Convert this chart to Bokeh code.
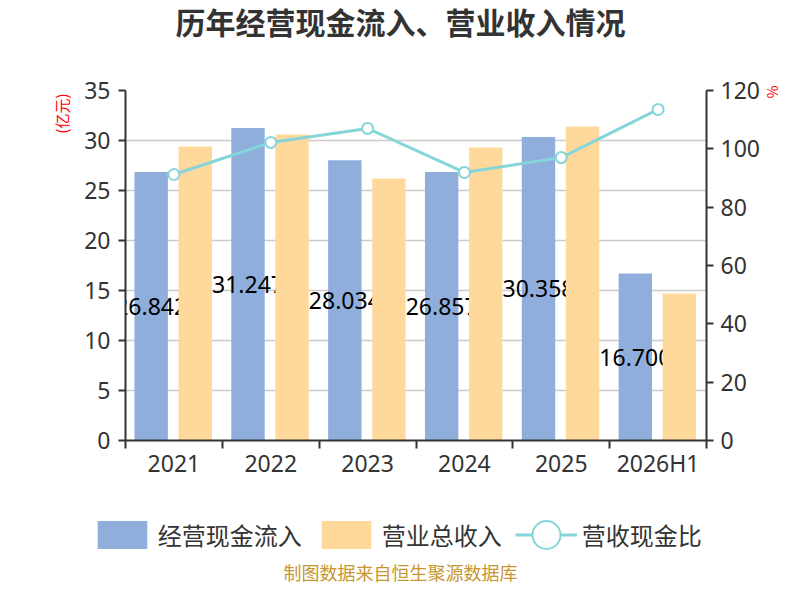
import numpy as np
from bokeh.plotting import figure
from bokeh.models import (Range1d, LinearAxis, FixedTicker, ColumnDataSource,
                          Legend, LegendItem, Title, Label)
from bokeh.core.properties import value
from bokeh.embed import file_html
from bokeh.resources import INLINE

# ---- data ----
categories = ["2021", "2022", "2023", "2024", "2025", "2026H1"]
cash_inflow = [26.842, 31.247, 28.034, 26.857, 30.358, 16.700]   # 经营现金流入 (亿元)
revenue = [29.4, 30.6, 26.2, 29.3, 31.4, 14.7]                   # 营业总收入 (亿元)
cash_ratio = [91.2, 102.2, 107.0, 91.9, 97.0, 113.5]             # 营收现金比 (%)
left_ticks = [0, 5, 10, 15, 20, 25, 30, 35]
right_ticks = [0, 20, 40, 60, 80, 100, 120]
series_names = ["经营现金流入", "营业总收入", "营收现金比"]

CJK = "Noto Sans CJK SC"
NUM = "Noto Sans"
BLUE = "#8FAEDB"
ORANGE = "#FFD99C"
TEAL = "#86D5D9"
AXIS = "#333333"
W = 784

n = len(categories)
centers = np.arange(n) + 0.5
src = ColumnDataSource(dict(
    xc=centers, xb=centers - 0.235, xo=centers + 0.22,
    cash=cash_inflow, rev=revenue, ratio=cash_ratio,
    label_y=np.array(cash_inflow) / 2.0,
    label=[f"{v:.3f}" for v in cash_inflow],
))

# ---------------- main chart ----------------
p = figure(width=W, height=500, x_range=Range1d(0, n), y_range=Range1d(0, left_ticks[-1]),
           output_backend="svg", toolbar_location=None, title=None,
           min_border_left=125, min_border_right=73, min_border_top=90, min_border_bottom=60)
p.outline_line_color = None
p.background_fill_color = "white"
p.extra_y_ranges = {"pct": Range1d(0, right_ticks[-1])}

p.xgrid.visible = False
p.ygrid.ticker = FixedTicker(ticks=left_ticks)
p.ygrid.grid_line_color = "#CCCCCC"
p.ygrid.grid_line_width = 1.5

xa = p.xaxis[0]
xa.ticker = FixedTicker(ticks=list(centers), minor_ticks=list(range(n + 1)))
xa.major_label_overrides = {float(c): cat for c, cat in zip(centers, categories)}
xa.major_tick_in = 0
xa.major_tick_out = 0
xa.minor_tick_in = 0
xa.minor_tick_out = 8
xa.minor_tick_line_color = AXIS
xa.minor_tick_line_width = 2
xa.axis_line_color = AXIS
xa.axis_line_width = 2
xa.major_label_standoff = -2
xa.major_label_text_font = NUM
xa.major_label_text_font_size = "23px"
xa.major_label_text_color = AXIS

ya = p.yaxis[0]
ya.ticker = FixedTicker(ticks=left_ticks)
ra = LinearAxis(y_range_name="pct", ticker=FixedTicker(ticks=right_ticks))
p.add_layout(ra, "right")
for ax in (ya, ra):
    ax.major_tick_in = 0
    ax.major_tick_out = 7
    ax.minor_tick_in = 0
    ax.minor_tick_out = 0
    ax.major_tick_line_color = AXIS
    ax.major_tick_line_width = 2
    ax.axis_line_color = AXIS
    ax.axis_line_width = 2
    ax.major_label_standoff = 8
    ax.major_label_text_font = NUM
    ax.major_label_text_font_size = "23px"
    ax.major_label_text_color = AXIS
ra.major_label_standoff = 7

p.vbar(x="xb", top="cash", width=0.345, source=src, fill_color=BLUE, line_color=None)
p.text(x="xb", y="label_y", text="label", source=src, text_font=value(NUM),
       text_font_size="23px", text_align="center", text_baseline="middle", text_color="#000000")
p.vbar(x="xo", top="rev", width=0.345, source=src, fill_color=ORANGE, line_color=None)
p.line(x="xc", y="ratio", y_range_name="pct", source=src, line_color=TEAL, line_width=3)
p.scatter(x="xc", y="ratio", y_range_name="pct", source=src, marker="circle", size=11,
          fill_color="white", line_color=TEAL, line_width=2)

p.add_layout(Title(text=" ", text_font_size="20px", standoff=29), "above")
p.add_layout(Title(text="历年经营现金流入、营业收入情况", text_font=CJK, text_font_size="30px",
                   text_font_style="bold", text_color=AXIS, align="left", offset=50,
                   standoff=-10), "above")
p.add_layout(Title(text="(亿元)", text_font=CJK, text_font_size="15px", text_font_style="normal",
                   text_color="red", align="right", offset=3, standoff=20), "left")
p.add_layout(Title(text="%", text_font=CJK, text_font_size="14px", text_font_style="normal",
                   text_color="red", align="left", offset=-5, standoff=0), "right")

# ---------------- legend + source strip ----------------
H2 = 84
q = figure(width=W, height=H2, x_range=Range1d(0, W), y_range=Range1d(0, H2),
           output_backend="svg", toolbar_location=None, title=None,
           x_axis_location=None, y_axis_location=None, min_border=0)
q.grid.visible = False
q.outline_line_color = None
# legend proxies: same data and styles as the chart, drawn on a range that is out of view
q.extra_x_ranges = {"off": Range1d(-1000, -999)}
g1 = q.vbar(x="xb", top="cash", width=0.345, source=src, fill_color=BLUE, line_color=None,
            x_range_name="off")
g2 = q.vbar(x="xo", top="rev", width=0.345, source=src, fill_color=ORANGE, line_color=None,
            x_range_name="off")
g3 = q.line(x="xc", y="ratio", source=src, line_color=TEAL, line_width=3, x_range_name="off")
g4 = q.annulus(x="xc", y="ratio", inner_radius=0.1, outer_radius=0.2, source=src,
               fill_color="white", line_color=TEAL, line_width=2, x_range_name="off")
g5 = q.scatter(x="xc", y="ratio", source=src, marker="circle", size=10,
               fill_color="white", line_color="white", line_width=2.5, x_range_name="off")

legend = Legend(items=[LegendItem(label=series_names[0], renderers=[g1]),
                       LegendItem(label=series_names[1], renderers=[g2]),
                       LegendItem(label=series_names[2], renderers=[g3, g4, g5])],
                orientation="horizontal", location=(90.8, 32.5),
                glyph_width=62, glyph_height=35, label_standoff=5, spacing=13,
                padding=0, margin=0, border_line_color=None, background_fill_alpha=0,
                label_text_font=CJK, label_text_font_size="24px", label_text_color=AXIS)
q.add_layout(legend)
q.add_layout(Label(x=400, y=13, text="制图数据来自恒生聚源数据库", text_font=CJK,
                   text_font_size="18px", text_color="#C8962E",
                   text_align="center", text_baseline="middle"))

open("out.html", "w").write(file_html([p, q], INLINE))
